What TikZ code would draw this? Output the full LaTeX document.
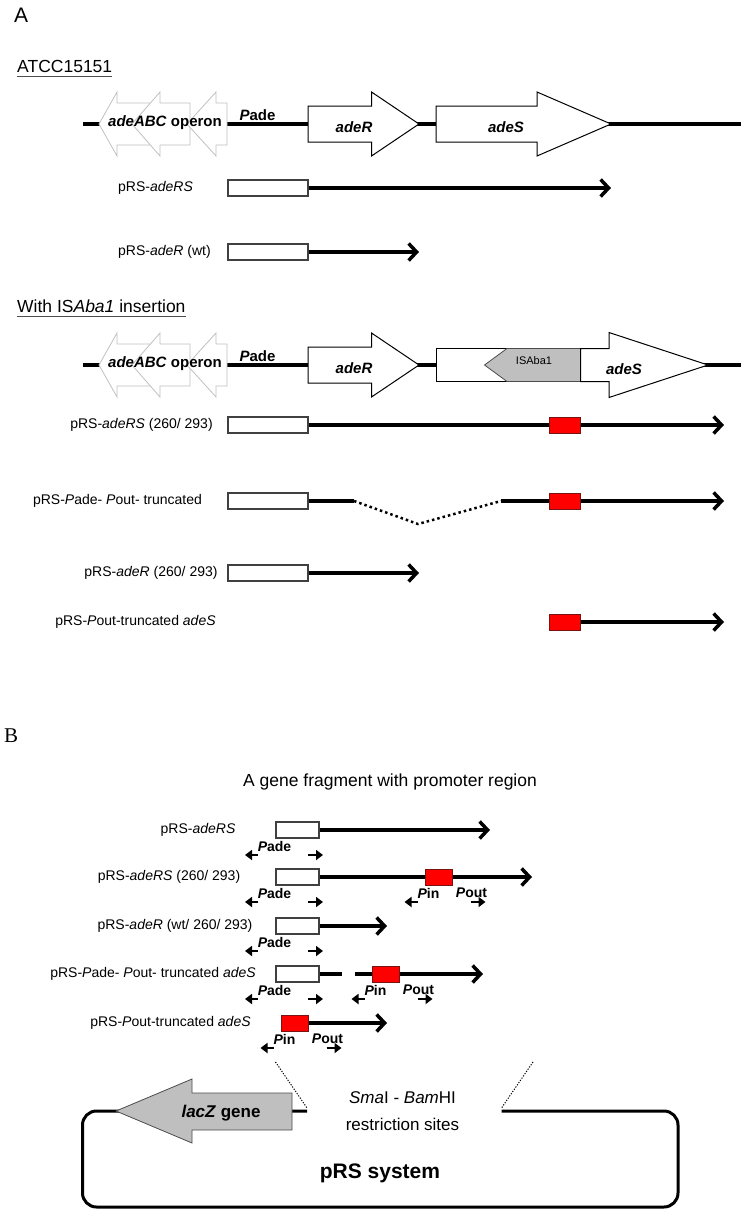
\documentclass[tikz,border=0pt]{standalone}
\usepackage{fontspec}
\setmainfont{Liberation Sans}
\newfontfamily\timesfont{Liberation Serif}
\usetikzlibrary{arrows.meta}

\definecolor{opgray}{RGB}{192,192,192}
\definecolor{isgray}{RGB}{191,191,191}
\definecolor{boxred}{RGB}{255,0,0}
\definecolor{boxedge}{RGB}{120,20,20}

\tikzset{
  dna/.style={line width=3.5pt},
  cons/.style={line width=3.5pt,-{Straight Barb[length=8pt,width=17pt]}},
  pbox/.style={draw=black!75,line width=1.2pt,fill=white,minimum width=80pt,minimum height=16pt,inner sep=0pt},
  rbox/.style={draw=boxedge,line width=1pt,fill=boxred,minimum width=31pt,minimum height=16pt,inner sep=0pt},
  lbl/.style={font=\fontsize{14}{16}\selectfont,inner sep=0pt},
  head/.style={font=\fontsize{17.5}{20}\selectfont,inner sep=0pt},
  gname/.style={font=\fontsize{15}{17}\selectfont\bfseries\itshape,inner sep=0pt},
  plbl/.style={font=\fontsize{14}{16}\selectfont\bfseries,inner sep=0pt},
  prom/.style={line width=2pt,-{Triangle[length=7pt,width=10pt]}},
  gene/.style={draw=black,line width=1pt,fill=white},
  operon/.style={draw=opgray,line width=0.8pt,fill=white},
}

\begin{document}
\begin{tikzpicture}[x=1pt,y=-1pt]
\useasboundingbox (0,0) rectangle (745,1213);

% ---------- A ----------
\node[font=\fontsize{21}{24}\selectfont,inner sep=0pt,anchor=base west] (labA) at (14,22) {A};
\node[head,anchor=base west] (atcc) at (17,72) {ATCC15151};
\draw[line width=1pt,black!70] ([yshift=-4pt]atcc.base west) -- ([yshift=-4pt]atcc.base east);
\node[head,anchor=base west] (withis) at (17,312) {With IS\textit{Aba1} insertion};
\draw[line width=1pt,black!70] ([yshift=-4pt]withis.base west) -- ([yshift=-4pt]withis.base east);

% chromosome rows
\foreach \y in {124,365} {
  \draw[dna] (83,\y) -- (741,\y);
  \foreach \t/\b/\e in {99/117/150,132/160/190,187/216/227}
    \draw[operon] (\t,\y) -- (\b,\y-32) -- (\b,\y-21) -- (\e,\y-21) -- (\e,\y+21) -- (\b,\y+21) -- (\b,\y+32) -- cycle;
  \node[font=\fontsize{15}{17}\selectfont\bfseries,inner sep=0pt] (op\y) at (165,\y-1) {\textit{adeABC} operon};
  \node[plbl,font=\fontsize{15}{17}\selectfont\bfseries] (pade\y) at (257.5,\y-9) {\textit{P}ade};
  \draw[gene] (308,\y-18) -- (371.5,\y-18) -- (371.5,\y-32) -- (419,\y) -- (371.5,\y+32) -- (371.5,\y+18) -- (308,\y+18) -- cycle;
  \node[gname] (adeR\y) at (354,\y+3) {adeR};
}
\draw[gene] (436,106) -- (537,106) -- (537,92) -- (611,124) -- (537,156) -- (537,142) -- (436,142) -- cycle;
\node[gname] (adeS124) at (506,127) {adeS};

\draw[gene] (436,348.5) rectangle (580.5,381.5);
\draw[draw=black!70,line width=0.8pt,fill=isgray] (484.5,365) -- (507,348.5) -- (580.5,348.5) -- (580.5,381.5) -- (507,381.5) -- cycle;
\node[font=\fontsize{11}{13}\selectfont,inner sep=0pt] (isaba) at (534,361) {ISAba1};
\draw[gene] (580.5,348.5) -- (609,348.5) -- (609,332.5) -- (708,365) -- (609,397.5) -- (609,381.5) -- (580.5,381.5) -- cycle;
\node[gname] (adeS365) at (624,369) {adeS};

% constructs
\node[pbox] (bA1) at (268,188) {};
\coordinate (eA1) at (611,188);
\draw[cons] (bA1.east) -- (eA1);
\node[lbl] (lA1) at (155.5,188) {pRS-\textit{adeRS}};

\node[pbox] (bA2) at (268,252) {};
\coordinate (eA2) at (419,252);
\draw[cons] (bA2.east) -- (eA2);
\node[lbl] (lA2) at (164.5,252) {pRS-\textit{adeR} (wt)};

\node[pbox] (bA3) at (268,425) {};
\coordinate (eA3) at (724,425);
\draw[cons] (bA3.east) -- (eA3);
\node[rbox] (rA3) at (565,425) {};
\node[lbl] (lA3) at (141.5,425) {pRS-\textit{adeRS} (260/ 293)};

\node[pbox] (bA4) at (268,501) {};
\coordinate (dA1) at (354,501);
\coordinate (dA2) at (418,524);
\coordinate (dA3) at (501,501);
\coordinate (eA4) at (724,501);
\draw[dna] (bA4.east) -- (dA1);
\draw[line width=2.5pt,dash pattern=on 2.5pt off 3pt] (dA1) -- (dA2) -- (dA3);
\draw[cons] (dA3) -- (eA4);
\node[rbox] (rA4) at (565,501) {};
\node[lbl] (lA4) at (117.5,501) {pRS-\textit{P}ade- \textit{P}out- truncated};

\node[pbox] (bA5) at (268,573) {};
\coordinate (eA5) at (419,573);
\draw[cons] (bA5.east) -- (eA5);
\node[lbl] (lA5) at (151,573) {pRS-\textit{adeR} (260/ 293)};

\node[rbox] (rA6) at (565,622) {};
\coordinate (eA6) at (724,622);
\draw[cons] (rA6.east) -- (eA6);
\node[lbl] (lA6) at (135.5,622) {pRS-\textit{P}out-truncated \textit{adeS}};

% ---------- B ----------
\node[font=\timesfont\fontsize{21}{24}\selectfont,inner sep=0pt,anchor=base west] (labB) at (4,742) {B};
\node[head] (title) at (390,782) {A gene fragment with promoter region};

\foreach \y in {830,877,926,974} {
  \node[pbox,minimum width=43pt] (bB\y) at (297.5,\y) {};
  \node[plbl] (padeB\y) at (274.5,\y+16) {\textit{P}ade};
  \draw[prom] (258,\y+25) -- (245,\y+25);
  \draw[prom] (308,\y+25) -- (323,\y+25);
}

\coordinate (eB1) at (490,830);
\draw[cons] (bB830.east) -- (eB1);
\node[lbl] (lB1) at (198,830) {pRS-\textit{adeRS}};

\coordinate (eB2) at (532,877);
\draw[cons] (bB877.east) -- (eB2);
\node[lbl] (lB2) at (169,877) {pRS-\textit{adeRS} (260/ 293)};

\coordinate (eB3) at (387,926);
\draw[cons] (bB926.east) -- (eB3);
\node[lbl] (lB3) at (175,926) {pRS-\textit{adeR} (wt/ 260/ 293)};

\coordinate (gB1) at (342,974);
\coordinate (gB2) at (355,974);
\coordinate (eB4) at (483,974);
\draw[dna] (bB974.east) -- (gB1);
\draw[cons] (gB2) -- (eB4);
\node[lbl] (lB4) at (153,974) {pRS-\textit{P}ade- \textit{P}out- truncated \textit{adeS}};

\coordinate (eB5) at (387,1023);
\draw[cons] (294.5,1023) -- (eB5);
\node[lbl] (lB5) at (170.5,1023) {pRS-\textit{P}out-truncated \textit{adeS}};

\foreach \x/\y in {438.5/877,385.5/974,294.5/1023} {
  \node[rbox,minimum width=27pt] (rB\y) at (\x,\y) {};
  \node[plbl] (pin\y) at (\x-10,\y+16) {\textit{P}in};
  \node[plbl] (pout\y) at (\x+33,\y+16) {\textit{P}out};
  \draw[prom] (\x-21,\y+25) -- (\x-34,\y+25);
  \draw[prom] (\x+32,\y+25) -- (\x+47,\y+25);
}

% pRS vector
\draw[line width=1pt,dash pattern=on 1.2pt off 1.5pt] (275.5,1062) -- (307,1108);
\draw[line width=1pt,dash pattern=on 1.2pt off 1.5pt] (533,1062) -- (501.5,1108);
\draw[line width=3pt,rounded corners=14pt] (307,1111) -- (82.5,1111) -- (82.5,1207) -- (678,1207) -- (678,1111) -- (501.5,1111);
\draw[draw=black!70,line width=0.8pt,fill=isgray] (116,1111) -- (192,1079) -- (192,1093) -- (292,1093) -- (292,1130) -- (192,1130) -- (192,1143) -- cycle;
\node[font=\fontsize{17}{20}\selectfont\bfseries,inner sep=0pt] (lacz) at (221,1113) {\textit{lacZ} gene};
\node[font=\fontsize{17}{27}\selectfont,inner sep=0pt,align=center] (sites) at (402.5,1111.5) {\textit{Sma}I - \textit{Bam}HI\\restriction sites};
\node[font=\fontsize{21}{24}\selectfont\bfseries,inner sep=0pt] (prs) at (380,1173) {pRS system};

\end{tikzpicture}
\end{document}
